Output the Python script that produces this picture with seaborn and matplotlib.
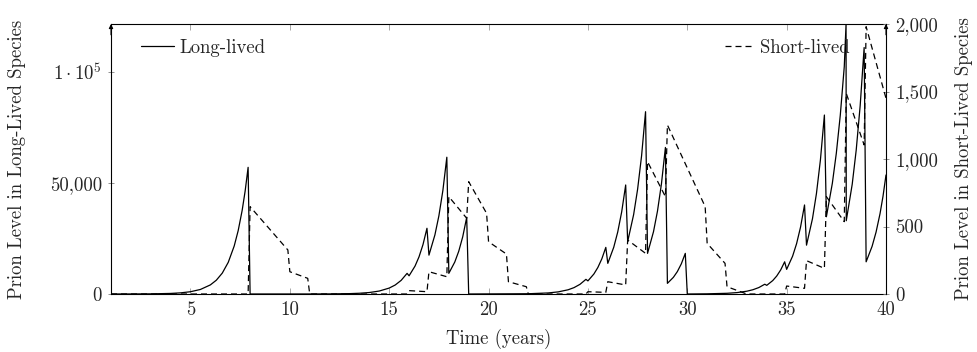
import pandas as pd
import matplotlib
matplotlib.use('Agg')
import matplotlib.pyplot as plt
import seaborn as sns

# Prion level in the long-lived species (left axis)
long_t = [1.0, 2.0, 3.0, 4.0, 4.5, 5.0, 5.5, 6.0, 6.3, 6.6, 6.9, 7.2, 7.4, 7.6, 7.75, 7.9,
          8.0, 11.0, 12.0, 13.0, 13.5, 14.0, 14.5, 15.0, 15.3, 15.6, 15.9,
          16.0, 16.3, 16.5, 16.7, 16.9, 17.0, 17.3, 17.5, 17.7, 17.9,
          18.0, 18.3, 18.5, 18.7, 18.9, 19.0,
          22.0, 23.0, 23.5, 24.0, 24.3, 24.6, 24.9,
          25.0, 25.3, 25.5, 25.7, 25.9, 26.0, 26.3, 26.5, 26.7, 26.9,
          27.0, 27.3, 27.5, 27.7, 27.9, 28.0, 28.3, 28.5, 28.7, 28.9,
          29.0, 29.3, 29.5, 29.7, 29.9, 30.0,
          31.0, 32.0, 32.5, 33.0, 33.3, 33.6, 33.9,
          34.0, 34.3, 34.5, 34.7, 34.9, 35.0, 35.3, 35.5, 35.7, 35.9,
          36.0, 36.3, 36.5, 36.7, 36.9, 37.0, 37.3, 37.5, 37.7, 37.9, 37.99,
          38.0, 38.3, 38.5, 38.7, 38.9, 39.0, 39.3, 39.5, 39.7, 39.85, 40.0]
long_v = [4, 16, 64, 256, 512, 1024, 2048, 4096, 6210, 9410, 14260, 21620, 28530, 37640, 46340, 57050,
          0, 10, 42, 167, 334, 667, 1334, 2668, 4040, 6130, 9300,
          8200, 12580, 16730, 22250, 29600, 17500, 26620, 35210, 46570, 61600,
          9300, 14400, 19270, 25780, 34500, 0,
          118, 474, 947, 1895, 2873, 4354, 6600,
          5900, 9010, 11950, 15840, 21000, 13800, 21070, 27930, 37040, 49100,
          23600, 35750, 47170, 62230, 82100, 18300, 28070, 37320, 49630, 66000,
          4800, 7500, 10090, 13590, 18300, 0,
          79, 316, 632, 1264, 1916, 2902, 4400,
          3900, 6040, 8090, 10830, 14500, 11100, 17040, 22660, 30140, 40100,
          22000, 33920, 45260, 60400, 80600, 34800, 49870, 63390, 80570, 102400, 121600,
          33000, 49440, 64750, 84780, 111000, 14500, 21460, 27880, 36210, 44060, 53600]

# Prion level in the short-lived species (right axis)
short_t = [1.0, 7.9, 8.0, 9.9, 10.0, 10.9, 11.0, 15.9, 16.0, 16.9, 17.0, 17.9,
           18.0, 18.9, 19.0, 19.9, 20.0, 20.9, 21.0, 21.9, 22.0, 24.9,
           25.0, 25.9, 26.0, 26.9, 27.0, 27.9, 28.0, 28.9, 29.0, 30.9,
           31.0, 31.9, 32.0, 32.9, 33.0, 34.9, 35.0, 35.9, 36.0, 36.9,
           37.0, 37.9, 38.0, 38.9, 39.0, 40.0]
short_v = [0, 0, 647, 326, 165, 116, 0, 0, 25, 17, 165, 128,
           721, 561, 832, 598, 387, 296, 91, 54, 0, 0,
           17, 12, 91, 67, 400, 301, 980, 721, 1252, 647,
           375, 227, 54, 5, 0, 0, 59, 42, 247, 190,
           721, 536, 1486, 1104, 1980, 1450]

x_ticks = [5, 10, 15, 20, 25, 30, 35, 40]
left_ticks = [0, 50000, 100000]
left_labels = ['0', '50,000', r'$1\cdot10^{5}$']
right_ticks = [0, 500, 1000, 1500, 2000]
right_labels = ['0', '500', '1,000', '1,500', '2,000']

sns.set_style('ticks')
plt.rcParams['font.family'] = ['cmr10', 'DejaVu Serif']
plt.rcParams['mathtext.fontset'] = 'cm'
plt.rcParams['axes.unicode_minus'] = False
plt.rcParams['axes.formatter.use_mathtext'] = True
fs = 13.5

fig = plt.figure(figsize=(9.77, 3.52), dpi=100)
ax = fig.add_axes([111 / 977, 1 - 294 / 352, 775 / 977, 270 / 352])
ax2 = ax.twinx()

long_df = pd.DataFrame({'t': long_t, 'v': long_v})
short_df = pd.DataFrame({'t': short_t, 'v': short_v})
sns.lineplot(data=long_df, x='t', y='v', ax=ax, color='black', lw=0.9,
             estimator=None, sort=False)
sns.lineplot(data=short_df, x='t', y='v', ax=ax2, color='black', lw=0.9,
             estimator=None, sort=False)
h_long = ax.lines[0]
h_short = ax2.lines[0]
h_short.set_linestyle((0, (4.8, 3.2)))
h_long.set_label('Long-lived')
h_short.set_label('Short-lived')

ax.set_xlim(1, 40)
ax.set_ylim(0, 121600)
ax2.set_ylim(0, 2000)

ax.set_xticks(x_ticks)
ax.set_xticklabels([str(x) for x in x_ticks])
ax.set_yticks(left_ticks)
ax.set_yticklabels(left_labels)
ax2.set_yticks(right_ticks)
ax2.set_yticklabels(right_labels)

ax.tick_params(axis='x', direction='in', top=True, bottom=True, length=4,
               width=0.6, color='0.6', labelsize=fs, pad=5)
ax.tick_params(axis='y', direction='inout', length=5, width=0.6, color='0.5',
               labelsize=fs, pad=4)
ax2.tick_params(axis='y', direction='inout', length=5, width=0.6, color='0.5',
                labelsize=fs, pad=4)

for s in ['top', 'bottom', 'left']:
    ax.spines[s].set_color('black')
    ax.spines[s].set_linewidth(0.8)
ax.spines['right'].set_visible(False)
for s in ['top', 'bottom', 'left']:
    ax2.spines[s].set_visible(False)
ax2.spines['right'].set_visible(True)
ax2.spines['right'].set_color('black')
ax2.spines['right'].set_linewidth(0.8)

# arrow tips on the two vertical axes
for xa in [0, 1]:
    ax.annotate('', xy=(xa, 1.0), xytext=(xa, 0.96), xycoords='axes fraction',
                arrowprops=dict(arrowstyle='-|>', lw=0.8, color='black',
                                mutation_scale=6, shrinkA=0, shrinkB=0))

ax.set_xlabel('Time (years)', fontsize=fs, labelpad=7)
ax.set_ylabel('Prion Level in Long-Lived Species', fontsize=fs, labelpad=17)
ax2.set_ylabel('Prion Level in Short-Lived Species', fontsize=fs, rotation=90, labelpad=12)

ax.legend(handles=[h_long], loc='upper left', bbox_to_anchor=(0.0387, 0.946),
          frameon=False, fontsize=fs, handlelength=1.75, handletextpad=0.3,
          borderpad=0, borderaxespad=0)
ax2.legend(handles=[h_short], loc='upper right', bbox_to_anchor=(0.9535, 0.946),
           frameon=False, fontsize=fs, handlelength=1.6, handletextpad=0.3,
           borderpad=0, borderaxespad=0)

fig.savefig('out.png', dpi=100)
